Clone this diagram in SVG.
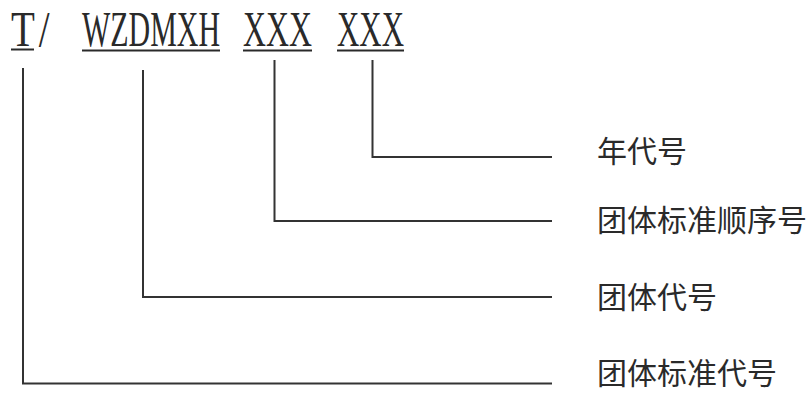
<svg xmlns="http://www.w3.org/2000/svg" width="809" height="394" viewBox="0 0 809 394">
<style>
.code{font-family:"Liberation Serif","Times New Roman",serif;font-size:50px;fill:#2a2a2a}
.lbl{font-family:"Noto Sans CJK SC","Noto Sans",sans-serif;font-size:30px;fill:#2a2a2a}
.ul{stroke:#2a2a2a;stroke-width:2;fill:none}
.conn{stroke:#333;stroke-width:2;fill:none}
</style>
<rect width="809" height="394" fill="#ffffff"/>
<g id="code">
<text class="code" transform="translate(11,46) scale(0.78,1)" letter-spacing="5">T/</text>
<line class="ul" x1="11" y1="49.5" x2="34" y2="49.5"/>
<text class="code" transform="translate(82,46) scale(0.599,1)">WZDMXH</text>
<line class="ul" x1="82" y1="50.5" x2="220" y2="50.5"/>
<text class="code" transform="translate(243,46) scale(0.637,1)">XXX</text>
<line class="ul" x1="243" y1="50.5" x2="312" y2="50.5"/>
<text class="code" transform="translate(337,46) scale(0.619,1)">XXX</text>
<line class="ul" x1="337" y1="50.5" x2="404" y2="50.5"/>
</g>
<g id="connectors">
<polyline class="conn" points="372.5,60 372.5,157 552,157"/>
<polyline class="conn" points="274.5,60 274.5,221 552,221"/>
<polyline class="conn" points="143,70 143,297 552,297"/>
<polyline class="conn" points="23,68 23,383.5 552,383.5"/>
</g>
<g id="node-year"><text class="lbl" x="597" y="162">年代号</text></g>
<g id="node-seq"><text class="lbl" x="597" y="231">团体标准顺序号</text></g>
<g id="node-org"><text class="lbl" x="597" y="308">团体代号</text></g>
<g id="node-std"><text class="lbl" x="597" y="384">团体标准代号</text></g>
</svg>
